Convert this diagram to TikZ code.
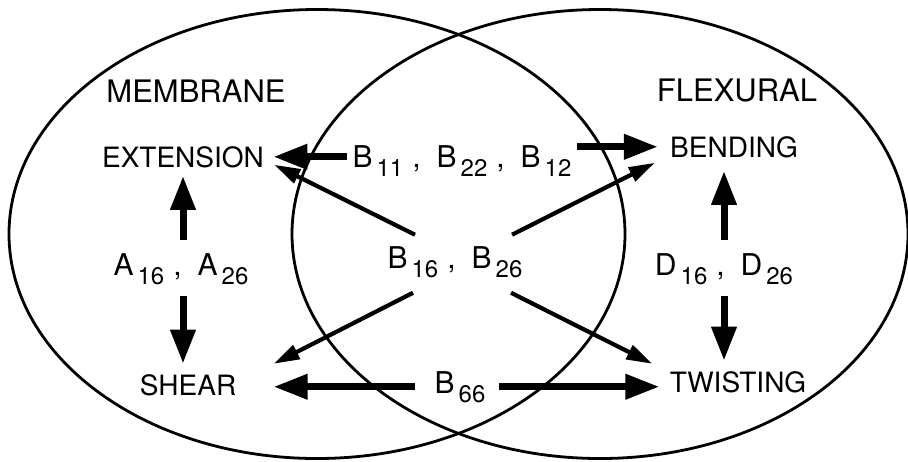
\documentclass[tikz,border=0pt]{standalone}
\usepackage{fontspec}
\setmainfont{TeX Gyre Heros}
\usepackage{tikz}
\usetikzlibrary{arrows.meta, calc}
\newcommand{\sbs}[1]{\hspace{2pt}\raisebox{-4.5pt}{\fontsize{12}{12}\selectfont #1}}
\newcommand{\csep}{\hspace{4.5pt},\hspace{8pt}}
\tikzset{zone/.style={line width=1.4pt}}
\tikzset{
	title/.style={font=\fontsize{15.5}{18}\selectfont, inner sep=2.5pt, anchor=base},
	word/.style={font=\fontsize{14}{16}\selectfont, inner sep=2.5pt, anchor=base},
	coeff/.style={font=\fontsize{15}{18}\selectfont, inner sep=2.5pt, anchor=base},
	fat/.style={line width=3.5pt, -{Triangle[length=17pt, width=12pt]}},
	slim/.style={line width=2.1pt, -{Triangle[length=13pt, width=7.5pt]}}
}

\begin{document}
\begin{tikzpicture}[x=0.5pt, y=-0.5pt]
  \useasboundingbox (0,0) rectangle (908,461);

  % ---- the two overlapping regions
  \draw[zone] (317,234) ellipse [x radius=154pt, y radius=112.25pt];
  \draw[zone] (600,234) ellipse [x radius=154pt, y radius=112.25pt];

  % ---- headings
  \node[title] at (196,102) (memb) {MEMBRANE};
  \node[title] at (737,101) (flex) {FLEXURAL};

  % ---- the four responses
  \node[word] at (183,167) (ext)   {EXTENSION};
  \node[word] at (734,157) (bend)  {BENDING};
  \node[word] at (188,395) (shear) {SHEAR};
  \node[word] at (738,392) (twist) {TWISTING};

  % ---- the coupling terms
  \node[coeff] at (462,167) (b1)    {B\sbs{11}\csep B\sbs{22}\csep B\sbs{12}};
  \node[coeff] at (455,268) (bmid)  {B\sbs{16}\csep B\sbs{26}};
  \node[coeff] at (460,393) (b66)   {B\sbs{66}};
  \node[coeff] at (181,275) (aline) {A\sbs{16}\csep A\sbs{26}};
  \node[coeff] at (724,275) (dline) {D\sbs{16}\csep D\sbs{26}};

  % ================= B11, B22, B12 -> extension and bending ===================
  \draw[fat, shorten >=2pt] (ext.east -| b1.west) -- (ext.east);
  \draw[fat, shorten >=3.5pt] (bend.west -| b1.east) -- (bend.west);

  % ================= B66 -> shear and twisting ================================
  \draw[fat, shorten <=7pt, shorten >=16pt] (b66.west) -- (b66.west -| shear.east);
  \draw[fat, shorten <=4pt, shorten >=2.5pt] (b66.east) -- (b66.east -| twist.west);

  % ================= B16, B26 -> all four =====================================
  \draw[slim] ([xshift=-20pt,yshift=3pt]bmid.north) -- ([xshift=2.5pt,yshift=-4pt]ext.east);
  \draw[slim] ([xshift=28.5pt,yshift=3pt]bmid.north) -- ([xshift=-5pt,yshift=-8pt]bend.west);
  \draw[slim] ([xshift=-21pt,yshift=-5pt]bmid.south) -- ([xshift=16pt,yshift=10.5pt]shear.east);
  \draw[slim] ([xshift=28pt,yshift=-5pt]bmid.south) -- ([xshift=-6pt,yshift=9pt]twist.west);

  % ================= A16, A26 -> extension and shear ==========================
  \draw[fat, shorten <=4pt, shorten >=1.5pt] (ext.south |- aline.north) -- (ext.south);
  \draw[fat, shorten <=3pt, shorten >=2.5pt] (ext.south |- aline.south) -- (ext.south |- shear.north);

  % ================= D16, D26 -> bending and twisting =========================
  \draw[fat, shorten <=4pt, shorten >=4pt] (dline.north) -- (dline.north |- bend.south);
  \draw[fat, shorten <=3pt, shorten >=2.5pt] (dline.south) -- (dline.south |- twist.north);

\end{tikzpicture}
\end{document}
